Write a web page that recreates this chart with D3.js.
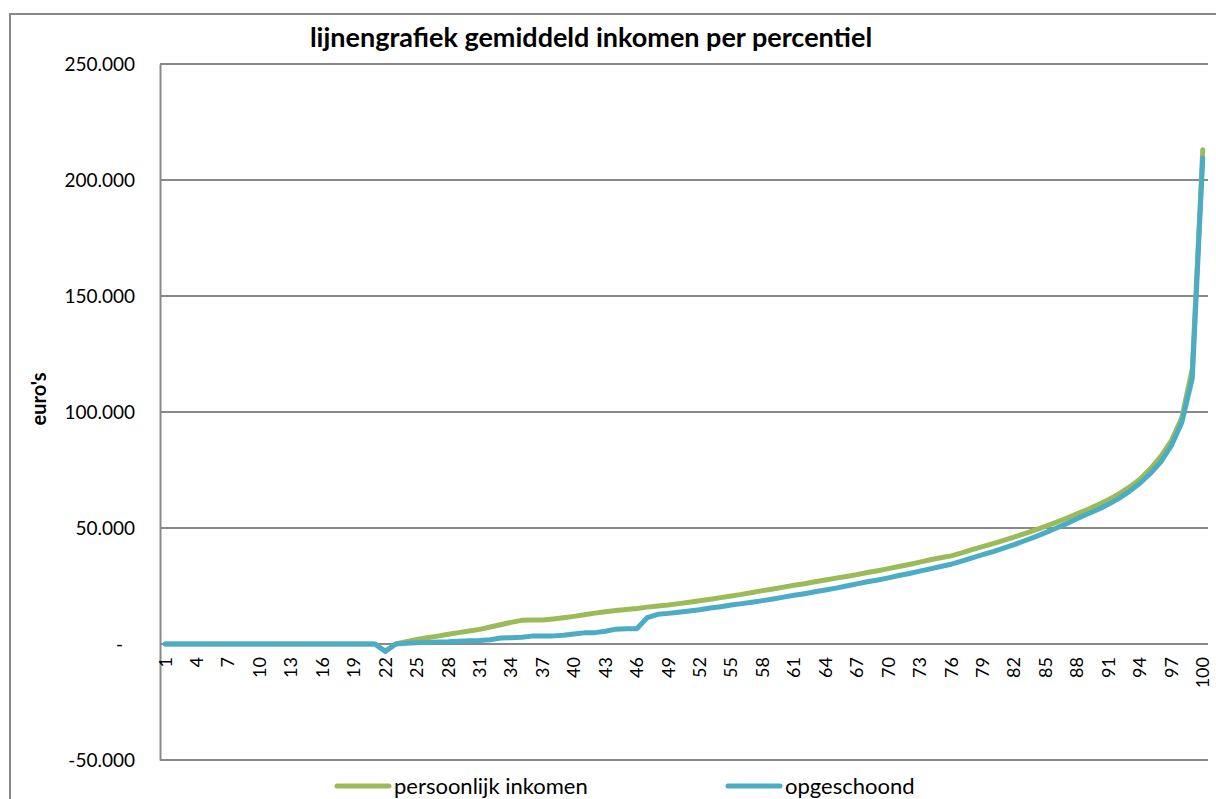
<!DOCTYPE html>
<html>
<head>
<meta charset="utf-8">
<script src="https://cdn.jsdelivr.net/npm/d3@7"></script>
<style>
  body { margin: 0; background: #fff; }
  svg { display: block; font-family: Lato, "Open Sans", sans-serif; }
</style>
</head>
<body>
<div id="grafiek"></div>
<script>
// percentielen 1 t/m 100
var percentielen = d3.range(1, 101);

var persoonlijk = [
  0, 0, 0, 0, 0, 0, 0, 0, 0, 0,
  0, 0, 0, 0, 0, 0, 0, 0, 0, 0,
  0, -3000, 0, 1000, 2000, 2700, 3400, 4200, 4900, 5600,
  6300, 7300, 8300, 9300, 10200, 10300, 10300, 10800, 11300, 11900,
  12600, 13300, 13900, 14400, 14900, 15300, 15900, 16400, 16800, 17400,
  18000, 18600, 19300, 20000, 20700, 21400, 22200, 23000, 23700, 24500,
  25300, 26000, 26800, 27600, 28400, 29100, 29900, 30800, 31600, 32500,
  33400, 34300, 35300, 36300, 37200, 38000, 39300, 40700, 42000, 43300,
  44700, 46100, 47600, 49100, 50700, 52400, 54200, 56100, 58000, 60000,
  62200, 64700, 67600, 71000, 75500, 80900, 87500, 97500, 118500, 213000
];

var opgeschoond = [
  0, 0, 0, 0, 0, 0, 0, 0, 0, 0,
  0, 0, 0, 0, 0, 0, 0, 0, 0, 0,
  0, -3200, 0, 300, 500, 700, 900, 1000, 1200, 1400,
  1500, 1800, 2600, 2700, 2900, 3400, 3500, 3500, 3800, 4300,
  4800, 4900, 5500, 6400, 6600, 6600, 11400, 12800, 13200, 13700,
  14200, 14800, 15500, 16100, 16800, 17400, 18000, 18700, 19400, 20200,
  21000, 21700, 22500, 23300, 24100, 25000, 25900, 26800, 27600, 28500,
  29500, 30400, 31400, 32400, 33400, 34400, 35700, 37100, 38500, 39800,
  41300, 42800, 44500, 46200, 48000, 49900, 51900, 54000, 56000, 58000,
  60200, 62800, 65800, 69300, 73500, 78500, 85500, 95500, 114500, 209500
];

var yTicks = [-50000, 0, 50000, 100000, 150000, 200000, 250000];
var series = [
  { naam: 'persoonlijk inkomen', waarden: persoonlijk, kleur: '#9bbb59' },
  { naam: 'opgeschoond', waarden: opgeschoond, kleur: '#4bacc6' }
];

var width = 1216, height = 799;
var plot = { left: 160, top: 64, right: 1208, bottom: 760 };
var grijs = '#898989';

var nl = d3.formatLocale({ decimal: ',', thousands: '.', grouping: [3], currency: ['€', ''], minus: '-' });
var fmt = nl.format(',d');

var svg = d3.select('#grafiek').append('svg')
    .attr('width', width).attr('height', height);

// kader van de grafiek
svg.append('rect')
    .attr('x', 10).attr('y', 14)
    .attr('width', width + 20).attr('height', height + 20)
    .attr('fill', 'none').attr('stroke', grijs).attr('stroke-width', 2);

var x = d3.scaleBand().domain(percentielen).range([plot.left, plot.right]);
var y = d3.scaleLinear().domain([-50000, 250000]).range([plot.bottom, plot.top]);

// rasterlijnen
svg.append('g').selectAll('line')
    .data(yTicks)
    .join('line')
    .attr('x1', plot.left).attr('x2', plot.right)
    .attr('y1', d => y(d)).attr('y2', d => y(d))
    .attr('stroke', grijs).attr('stroke-width', 2);

// y-as
var yAxis = svg.append('g')
    .attr('transform', `translate(${plot.left},0)`)
    .call(d3.axisLeft(y).tickValues(yTicks).tickSize(0).tickPadding(25)
        .tickFormat(d => d === 0 ? '-' : fmt(d)));
yAxis.select('.domain').attr('stroke', grijs).attr('stroke-width', 2);
yAxis.selectAll('text')
    .style('font-family', 'Lato, sans-serif')
    .style('font-size', '19px').attr('fill', '#000')
    .attr('dx', d => d === 0 ? -12 : 0);

// x-as met labels om de 3 percentielen
var xAxis = svg.append('g')
    .attr('transform', `translate(0,${y(0)})`)
    .call(d3.axisBottom(x).tickValues(percentielen.filter(d => (d - 1) % 3 === 0)).tickSize(0));
xAxis.select('.domain').remove();
xAxis.selectAll('text')
    .style('font-family', 'Lato, sans-serif')
    .style('font-size', '18px').attr('fill', '#000')
    .attr('transform', 'rotate(-90)')
    .attr('text-anchor', 'end')
    .attr('x', -13).attr('y', 0).attr('dy', '0.35em');

// lijnen
var lijn = d3.line()
    .x((d, i) => x(percentielen[i]) + x.bandwidth() / 2)
    .y(d => y(d));

svg.append('g').selectAll('path')
    .data(series)
    .join('path')
    .attr('d', d => lijn(d.waarden))
    .attr('fill', 'none')
    .attr('stroke', d => d.kleur)
    .attr('stroke-width', 5)
    .attr('stroke-linejoin', 'round')
    .attr('stroke-linecap', 'round');

// titel
svg.append('text')
    .attr('x', 591).attr('y', 47)
    .attr('text-anchor', 'middle')
    .style('font-size', '27px').style('font-weight', 'bold')
    .text('lijnengrafiek gemiddeld inkomen per percentiel');

// as-titel
svg.append('text')
    .attr('transform', 'translate(46,399) rotate(-90)')
    .attr('text-anchor', 'middle')
    .style('font-size', '20px').style('font-weight', 'bold')
    .text("euro's");

// legenda
var legenda = svg.append('g').selectAll('g')
    .data(series)
    .join('g')
    .attr('transform', (d, i) => `translate(${i === 0 ? 337 : 728},786)`);
legenda.append('line')
    .attr('x1', 0).attr('x2', 52)
    .attr('stroke', d => d.kleur).attr('stroke-width', 5)
    .attr('stroke-linecap', 'round');
legenda.append('text')
    .attr('x', 57).attr('dy', '0.35em')
    .style('font-size', '22px')
    .text(d => d.naam);
</script>
</body>
</html>
